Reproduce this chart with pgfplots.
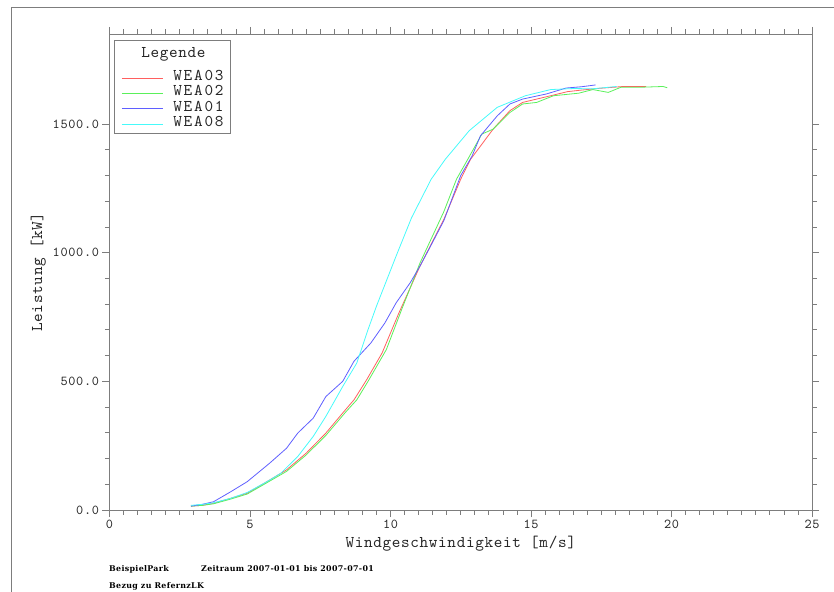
\documentclass[border=0pt]{standalone}
\usepackage{fontspec}
\usepackage{pgfplots}
\pgfplotsset{compat=1.18}
\newfontfamily\lblfam{lmmono10-regular.otf}[LetterSpace=4]
\newfontfamily\lgdfam{lmmono10-regular.otf}[LetterSpace=11]
\newfontfamily\tckfam{lmmono10-regular.otf}[LetterSpace=5]
\newfontfamily\ftrfam{DejaVu Serif}[LetterSpace=4]
\definecolor{axgray}{RGB}{125,125,125}
\definecolor{cR}{RGB}{255,95,95}
\definecolor{cG}{RGB}{90,240,90}
\definecolor{cB}{RGB}{95,95,255}
\definecolor{cC}{RGB}{70,250,250}
\newcommand{\lblfont}{\lblfam\fontsize{16.4bp}{16.4bp}\selectfont}
\newcommand{\tckfont}{\tckfam\fontsize{13.6bp}{13.6bp}\selectfont}
\newcommand{\lgdfont}{\lgdfam\fontsize{16.4bp}{16.4bp}\selectfont}
\newcommand{\ftrfont}{\ftrfam\bfseries\fontsize{7.9bp}{7.9bp}\selectfont}
\begin{document}
\begin{tikzpicture}
\useasboundingbox (-109.5bp,-82bp) rectangle (724.5bp,510bp);
\begin{axis}[
  at={(0bp,0bp)}, anchor=south west,
  scale only axis, width=702.5bp, height=476bp,
  xmin=0, xmax=25, ymin=0, ymax=1850,
  xtick={0,5,10,15,20,25}, ytick={0,500,1000,1500},
  minor x tick num=9, minor y tick num=4,
  tick align=outside,
  major tick length=7bp, minor tick length=4.5bp,
  axis line style={axgray, line width=0.9bp},
  every tick/.style={axgray, line width=0.8bp},
  tick label style={font=\tckfont, text=black!85},
  /pgf/number format/assume math mode=true,
  scaled y ticks=false,
  yticklabel style={/pgf/number format/.cd, fixed, fixed zerofill, precision=1, 1000 sep={}},
  xticklabel style={/pgf/number format/.cd, fixed, precision=0},
  xlabel={Windgeschwindigkeit [m/s]},
  ylabel={Leistung [kW]},
  label style={font=\lblfont, text=black!85},
  legend style={at={(axis description cs:0.0064,0.987)}, anchor=north west,
    draw=axgray, line width=0.9bp, inner xsep=7bp, inner ysep=1.7bp,
    column sep=10bp, row sep=0bp,
    nodes={inner xsep=0bp, inner ysep=0bp, text height=10bp, text depth=5.3bp, font=\lgdfont, text=black!85}},
  legend cell align=left,
  legend image code/.code={\draw[#1, line width=0.9bp] (0bp,0bp) -- (41bp,0bp);},
  every axis plot/.append style={line width=0.8bp},
]
\addlegendimage{empty legend}
\addlegendentry[text height=15.3bp, text depth=13bp]{\lblfam\hspace*{-32bp}Legende}
% WEA03
\addplot[cR] coordinates {
(2.9,15) (3.3,18) (3.7,26) (4.3,45) (4.9,65) (5.6,110) (6.3,156) (7.0,221)
(7.7,299) (8.4,390) (8.7,428) (9.15,506) (9.7,610) (10.3,766) (11.05,948)
(11.9,1130) (12.5,1286) (12.85,1363) (13.65,1480) (14.25,1552) (14.7,1584)
(15.7,1610) (16.3,1626) (16.8,1632) (17.45,1639) (18.3,1646) (19.1,1646)};
\addlegendentry{WEA03}
% WEA02
\addplot[cG] coordinates {
(2.9,15) (3.3,18) (3.7,24) (4.3,42) (4.9,62) (5.6,106) (6.3,150) (7.0,214)
(7.7,290) (8.4,380) (8.8,428) (9.2,500) (9.85,623) (10.4,780) (11.05,960)
(11.9,1160) (12.35,1286) (12.75,1363) (13.25,1461) (13.65,1480) (14.25,1545)
(14.7,1578) (15.2,1584) (15.8,1610) (16.7,1620) (17.2,1634) (17.75,1623)
(18.2,1643) (18.9,1643) (19.7,1646) (19.85,1641)};
\addlegendentry{WEA02}
% WEA01
\addplot[cB] coordinates {
(2.9,15) (3.3,22) (3.7,32) (4.3,70) (4.9,110) (5.7,182) (6.3,240) (6.7,299)
(7.25,357) (7.7,441) (8.3,500) (8.7,578) (9.3,649) (9.8,727) (10.2,805)
(10.7,883) (11.05,948) (11.4,1020) (11.9,1125) (12.5,1300) (12.9,1375)
(13.2,1454) (13.8,1532) (14.25,1578) (14.7,1597) (15.55,1617) (16.25,1640)
(16.8,1645) (17.3,1652)};
\addlegendentry{WEA01}
% WEA08
\addplot[cC] coordinates {
(2.9,18) (3.3,22) (3.7,28) (4.3,45) (4.9,68) (5.6,110) (6.1,143) (6.7,208)
(7.25,286) (7.7,364) (8.3,480) (8.8,571) (9.2,701) (9.5,792) (10.2,987)
(10.75,1136) (11.45,1286) (11.95,1363) (12.8,1474) (13.8,1565) (14.8,1610)
(15.7,1634) (16.5,1638) (17.2,1637) (18.05,1646)};
\addlegendentry{WEA08}
\end{axis}
\draw[axgray, line width=0.9bp] (-98.5bp,-82bp) -- (-98.5bp,503bp) -- (724.5bp,503bp);
\node[anchor=west, inner sep=0pt, font=\ftrfont] at (-0.5bp,-59bp) {BeispielPark};
\node[anchor=west, inner sep=0pt, font=\ftrfont] at (91.5bp,-59bp) {Zeitraum 2007-01-01 bis 2007-07-01};
\node[anchor=west, inner sep=0pt, font=\ftrfont] at (-0.5bp,-76bp) {Bezug zu RefernzLK};
\end{tikzpicture}
\end{document}
